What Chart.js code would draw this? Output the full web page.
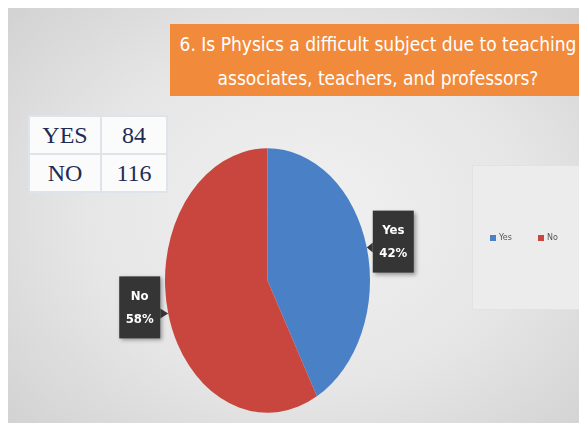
<!DOCTYPE html>
<html>
<head>
<meta charset="utf-8">
<script src="https://cdn.jsdelivr.net/npm/chart.js@4"></script>
<style>
  html, body { margin: 0; padding: 0; width: 579px; height: 423px; overflow: hidden; background: #fff; }
  #panel {
    position: absolute; left: 8px; top: 8px; width: 571px; height: 415px;
    background: radial-gradient(ellipse 70% 75% at 52% 50%, #f1f1f1 0%, #e6e6e6 55%, #d2d2d2 100%);
  }
  #title {
    position: absolute; left: 170px; top: 24px; width: 416px; height: 72px;
    background: #f18a3b; color: #fff; text-align: center;
    font-family: 'Liberation Sans Narrow', 'DejaVu Sans Condensed', sans-serif;
    font-stretch: condensed; font-size: 19px; line-height: 34px;
    box-sizing: border-box; padding-top: 3px; white-space: nowrap;
  }
  #counts {
    position: absolute; left: 28px; top: 115px; border-collapse: collapse;
    background: #fbfbfc; font-family: 'Liberation Serif', serif; font-size: 24px; color: #1e2b55;
  }
  #counts td { border: 2px solid #dfe3ea; height: 36px; text-align: center; padding: 0; }
  #counts td:first-child { width: 70px; }
  #counts td:last-child { width: 64px; }
  #legendbox {
    position: absolute; left: 472px; top: 165px; width: 120px; height: 143px;
    background: #ececec; border: 1px solid #e2e2e2;
  }
  #wrap { position: absolute; left: 0; top: 0; width: 579px; height: 423px; }
</style>
</head>
<body>
<div id="panel"></div>
<div id="title"></div>
<table id="counts"></table>
<div id="legendbox"></div>
<div id="wrap"><canvas id="myChart"></canvas></div>
<script>
// CHART DATA
const categories = ['Yes', 'No'];
const counts = [84, 116];
const tableLabels = ['YES', 'NO'];
const titleLines = ['6. Is Physics a difficult subject due to teaching', 'associates, teachers, and professors?'];
const sliceColors = ['#4a80c6', '#c8463d'];

// TITLE AND COUNT TABLE
document.getElementById('title').innerHTML = titleLines.join('<br>');
const table = document.getElementById('counts');
tableLabels.forEach((lbl, i) => {
  const row = table.insertRow();
  row.insertCell().textContent = lbl;
  row.insertCell().textContent = counts[i];
});

const total = counts.reduce((a, b) => a + b, 0);
const stretchY = 1.29;

// STRETCH THE PIE INTO AN ELLIPSE
const ellipsePlugin = {
  id: 'ellipse',
  beforeDatasetsDraw(chart) {
    const arc = chart.getDatasetMeta(0).data[0];
    const ctx = chart.ctx;
    ctx.save();
    ctx.translate(arc.x, arc.y);
    ctx.scale(1, stretchY);
    ctx.translate(-arc.x, -arc.y);
  },
  afterDatasetsDraw(chart) {
    chart.ctx.restore();
  }
};

// CALLOUT LABELS AND SMALL LEGEND
const calloutPlugin = {
  id: 'callouts',
  afterDraw(chart) {
    const ctx = chart.ctx;
    const arcs = chart.getDatasetMeta(0).data;
    arcs.forEach((arc, i) => {
      const mid = (arc.startAngle + arc.endAngle) / 2;
      const ex = arc.x + arc.outerRadius * Math.cos(mid);
      const ey = arc.y + arc.outerRadius * stretchY * Math.sin(mid);
      const w = 41, h = 62;
      const right = Math.cos(mid) > 0;
      const bx = right ? ex + 6 : ex - 8 - w;
      const by = ey - h / 2 - 6;
      ctx.save();
      ctx.shadowColor = 'rgba(0,0,0,0.35)';
      ctx.shadowBlur = 4;
      ctx.shadowOffsetX = 2;
      ctx.shadowOffsetY = 2;
      ctx.fillStyle = '#353535';
      ctx.fillRect(bx, by, w, h);
      ctx.restore();
      // pointer
      ctx.fillStyle = '#353535';
      ctx.beginPath();
      if (right) {
        ctx.moveTo(bx, ey - 5); ctx.lineTo(ex, ey); ctx.lineTo(bx, ey + 5);
      } else {
        ctx.moveTo(bx + w, ey - 5); ctx.lineTo(ex, ey); ctx.lineTo(bx + w, ey + 5);
      }
      ctx.fill();
      ctx.fillStyle = '#fff';
      ctx.font = 'bold 13px "Liberation Sans Narrow", "DejaVu Sans Condensed", sans-serif';
      ctx.textAlign = 'center';
      ctx.textBaseline = 'middle';
      const pct = Math.round(counts[i] / total * 100) + '%';
      ctx.fillText(chart.data.labels[i], bx + w / 2, by + 20);
      ctx.fillText(pct, bx + w / 2, by + 43);
    });
    // legend
    ctx.font = '8px "DejaVu Sans", sans-serif';
    ctx.textAlign = 'left';
    ctx.textBaseline = 'middle';
    let lx = 490;
    const ly = 238;
    chart.data.labels.forEach((lbl, i) => {
      ctx.fillStyle = sliceColors[i];
      ctx.fillRect(lx, ly - 3, 6, 6);
      ctx.fillStyle = '#555';
      ctx.fillText(lbl, lx + 9, ly);
      lx += 48;
    });
  }
};

const ctx = document.getElementById('myChart').getContext('2d');
const myChart = new Chart(ctx, {
  type: 'pie',
  data: {
    labels: categories,
    datasets: [{
      data: counts,
      backgroundColor: sliceColors,
      borderWidth: 0,
      clip: false
    }]
  },
  options: {
    responsive: true,
    maintainAspectRatio: false,
    animation: false,
    devicePixelRatio: 1,
    layout: { padding: { left: 165, right: 209, top: 178, bottom: 40 } },
    plugins: {
      legend: { display: false },
      tooltip: { enabled: false }
    }
  },
  plugins: [ellipsePlugin, calloutPlugin]
});
</script>
</body>
</html>
